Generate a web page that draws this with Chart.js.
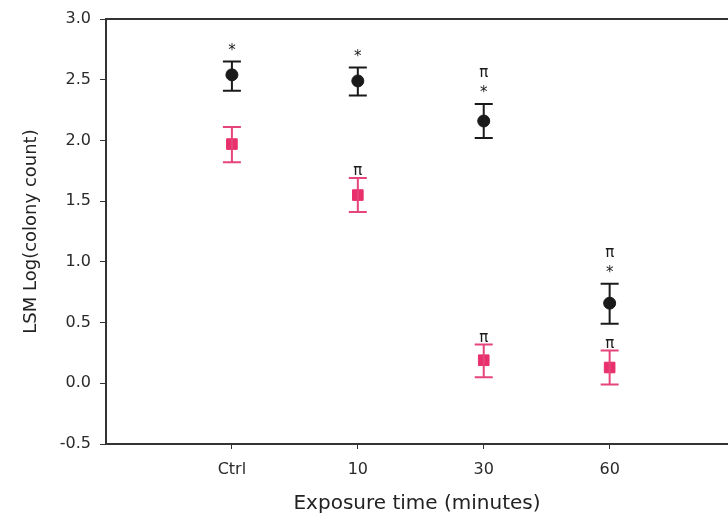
<!DOCTYPE html>
<html>
<head>
<meta charset="utf-8">
<script src="https://cdn.jsdelivr.net/npm/chart.js@4.4.1/dist/chart.umd.min.js"></script>
<style>
  html, body { margin: 0; padding: 0; background: #fff; overflow: hidden; }
  canvas { display: block; }
</style>
</head>
<body>
<canvas id="chartColonias" width="728" height="520"></canvas>
<script>
// categorias del eje x
const tiempos = ['Ctrl', '10', '30', '60'];
const ticksY = [-0.5, 0, 0.5, 1, 1.5, 2, 2.5, 3];

// serie negra (circulos)
const mediaNegra = [2.54, 2.49, 2.16, 0.66];
const bajoNegra = [2.41, 2.37, 2.02, 0.49];
const altoNegra = [2.65, 2.60, 2.30, 0.82];
const marcasNegra = [['*'], ['*'], ['*', 'π'], ['*', 'π']];

// serie roja (cuadrados)
const mediaRoja = [1.97, 1.55, 0.19, 0.13];
const bajoRoja = [1.82, 1.41, 0.05, -0.01];
const altoRoja = [2.11, 1.69, 0.32, 0.27];
const marcasRoja = [[], ['π'], ['π'], ['π']];

const colorNegro = '#1a1a1a';
const colorRojo = '#e8306c';
const colorRojoBarra = '#e6457c';
const fuente = 'DejaVu Sans, Verdana, sans-serif';

const puntos = (arr) => arr.map((v, i) => ({ x: i, y: v }));

// barras de error y simbolos encima
const pluginErrores = {
    id: 'errores',
    afterDatasetsDraw(chart) {
        const ctx = chart.ctx;
        const x = chart.scales.x;
        const y = chart.scales.y;
        const series = [
            { bajo: bajoNegra, alto: altoNegra, marcas: marcasNegra, color: colorNegro },
            { bajo: bajoRoja, alto: altoRoja, marcas: marcasRoja, color: colorRojoBarra }
        ];
        ctx.save();
        series.forEach(s => {
            ctx.strokeStyle = s.color;
            ctx.lineWidth = 2;
            s.bajo.forEach((b, i) => {
                let px = x.getPixelForValue(i);
                let y1 = y.getPixelForValue(b);
                let y2 = y.getPixelForValue(s.alto[i]);
                ctx.beginPath();
                ctx.moveTo(px, y1); ctx.lineTo(px, y2);
                ctx.moveTo(px - 9, y1); ctx.lineTo(px + 9, y1);
                ctx.moveTo(px - 9, y2); ctx.lineTo(px + 9, y2);
                ctx.stroke();
                ctx.fillStyle = colorNegro;
                ctx.font = '15px ' + fuente;
                ctx.textAlign = 'center';
                ctx.textBaseline = 'bottom';
                s.marcas[i].forEach((m, k) => {
                    let yt;
                    if (k > 0) yt = y2 - 23;
                    else yt = m == '*' ? y2 - 3 : y2 + 1;
                    ctx.fillText(m, px, yt);
                });
            });
        });
        ctx.restore();
    },
    afterDraw(chart) {
        // linea superior del marco
        const a = chart.chartArea;
        const ctx = chart.ctx;
        ctx.save();
        ctx.strokeStyle = '#333';
        ctx.lineWidth = 2;
        ctx.beginPath();
        ctx.moveTo(a.left, a.top);
        ctx.lineTo(a.right, a.top);
        ctx.stroke();
        ctx.restore();
    }
};

let ctx = document.getElementById('chartColonias').getContext('2d');
let chartColonias = new Chart(ctx, {
    type: 'scatter',
    data: {
        datasets: [{
            label: 'Negra',
            data: puntos(mediaNegra),
            backgroundColor: colorNegro,
            borderColor: colorNegro,
            pointStyle: 'circle',
            pointRadius: 6
        }, {
            label: 'Roja',
            data: puntos(mediaRoja),
            backgroundColor: colorRojo,
            borderColor: colorRojo,
            pointStyle: 'rect',
            pointRadius: 7.5
        }]
    },
    options: {
        responsive: false,
        animation: false,
        layout: { autoPadding: false, padding: { top: 19, right: 0, left: 17, bottom: 0 } },
        plugins: { legend: { display: false }, tooltip: { enabled: false } },
        scales: {
            x: {
                type: 'linear',
                min: -1,
                max: 3.94,
                afterBuildTicks: (s) => { s.ticks = tiempos.map((t, i) => ({ value: i })); },
                afterFit: (s) => { s.height = 76; s.paddingLeft = 0; s.paddingRight = 0; },
                ticks: {
                    color: '#2a2a2a',
                    font: { family: fuente, size: 16 },
                    padding: 11,
                    callback: (v) => tiempos[v]
                },
                grid: { drawOnChartArea: false, color: '#333', tickLength: 5 },
                border: { color: '#333', width: 2 },
                title: {
                    display: true,
                    text: 'Exposure time (minutes)',
                    color: '#222',
                    font: { family: fuente, size: 20 },
                    padding: { top: 14 }
                }
            },
            y: {
                min: -0.5,
                max: 3,
                afterBuildTicks: (s) => { s.ticks = ticksY.map(v => ({ value: v })); },
                afterFit: (s) => { s.width = 89; },
                ticks: {
                    color: '#2a2a2a',
                    font: { family: fuente, size: 16 },
                    padding: 9,
                    callback: (v) => v.toFixed(1)
                },
                grid: { drawOnChartArea: false, color: '#333', tickLength: 6 },
                border: { color: '#333', width: 2 },
                title: {
                    display: true,
                    text: 'LSM Log(colony count)',
                    color: '#222',
                    font: { family: fuente, size: 18 },
                    padding: { bottom: 4 }
                }
            }
        }
    },
    plugins: [pluginErrores]
});
</script>
</body>
</html>
